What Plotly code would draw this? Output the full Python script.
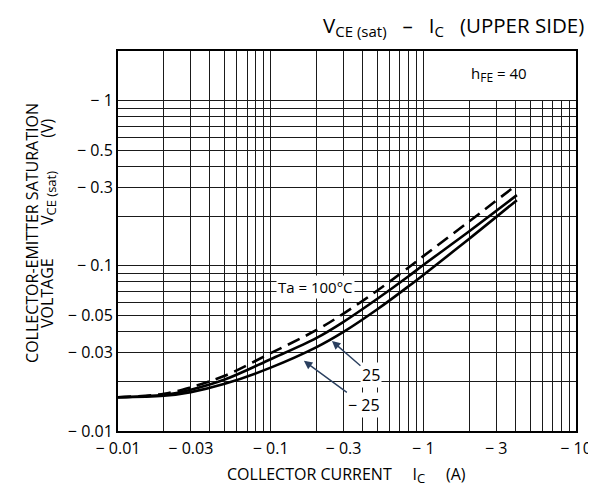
import numpy as np
import plotly.graph_objects as go

# ---- data ----
ic = [0.01, 0.02, 0.03, 0.05, 0.1, 0.2, 0.3, 0.5, 0.8, 1.0, 2.0, 4.1]
v_100 = [0.0160, 0.0168, 0.0184, 0.0216, 0.0296, 0.0409, 0.0514, 0.0709, 0.0977, 0.1145, 0.186, 0.310]
v_25 = [0.0160, 0.01656, 0.0178, 0.0205, 0.0272, 0.0366, 0.0458, 0.0632, 0.0865, 0.1012, 0.162, 0.268]
v_m25 = [0.0160, 0.01634, 0.0172, 0.0193, 0.0242, 0.0322, 0.0398, 0.0546, 0.0752, 0.0881, 0.146, 0.250]

x_tickvals = [0.01, 0.03, 0.1, 0.3, 1, 3, 10]
x_ticktext = ["− 0.01", "− 0.03", "− 0.1", "− 0.3", "− 1", "− 3", "− 10"]
y_tickvals = [0.01, 0.03, 0.05, 0.1, 0.3, 0.5, 1]
y_ticktext = ["− 0.01", "− 0.03", "− 0.05", "− 0.1", "− 0.3", "− 0.5", "− 1"]

x_minor = [m * d for d in (0.01, 0.1, 1) for m in range(1, 10)] + [10]
y_minor = [m * d for d in (0.01, 0.1) for m in range(1, 10)] + [1]

FONT = "Open Sans"

fig = go.Figure()
fig.add_trace(go.Scatter(x=ic, y=v_100, mode="lines",
                         line=dict(color="black", width=2.6, dash="13px,7px", shape="spline", smoothing=1)))
fig.add_trace(go.Scatter(x=ic, y=v_25, mode="lines",
                         line=dict(color="black", width=2.6, shape="spline", smoothing=1)))
fig.add_trace(go.Scatter(x=ic, y=v_m25, mode="lines",
                         line=dict(color="black", width=2.6, shape="spline", smoothing=1)))

grid_col = "#1a1a1a"
tick_font = dict(family=FONT, size=16, color="black")
fig.update_xaxes(
    type="log", range=[np.log10(0.01), np.log10(10)],
    tickvals=x_tickvals, ticktext=x_ticktext, ticks="", showgrid=False,
    minor=dict(tickvals=x_minor, showgrid=True, gridcolor=grid_col, gridwidth=1.1, ticks=""),
    showline=True, linecolor="black", linewidth=2, mirror=True,
    tickfont=tick_font, zeroline=False, ticklabelstandoff=2,
)
fig.update_yaxes(
    type="log", range=[np.log10(0.01), np.log10(2.0)],
    tickvals=y_tickvals, ticktext=y_ticktext, ticks="", showgrid=False,
    minor=dict(tickvals=y_minor, showgrid=True, gridcolor=grid_col, gridwidth=1.1, ticks=""),
    showline=True, linecolor="black", linewidth=2, mirror=True,
    tickfont=tick_font, zeroline=False,
)

# blank region for the hFE label (no vertical grid above 1 V right of 1 A)
fig.add_shape(type="rect", xref="x", yref="y", x0=1.03, x1=10, y0=1.01, y1=2.0,
              fillcolor="white", line=dict(width=0), layer="between")

ax_font = dict(family=FONT, size=16, color="black")
sub = "<sub><span style='font-size:%dpx'>%s</span></sub>"
fig.add_annotation(xref="paper", yref="paper", x=0.733, y=1.066, xanchor="center", yanchor="middle",
                   text="V" + sub % (15, "CE (sat)") + "   –   I" + sub % (15, "C") + "   (UPPER SIDE)",
                   showarrow=False, font=dict(family=FONT, size=20.5, color="black"))
fig.add_annotation(xref="paper", yref="paper", x=0.832, y=0.937, xanchor="center", yanchor="middle",
                   text="h" + sub % (12, "FE") + " = 40", showarrow=False,
                   font=dict(family=FONT, size=15, color="black"))
fig.add_annotation(xref="paper", yref="paper", x=-0.188, y=0.521, xanchor="center", yanchor="middle",
                   textangle=-90, text="COLLECTOR-EMITTER SATURATION", showarrow=False, font=ax_font)
fig.add_annotation(xref="paper", yref="paper", x=-0.153, y=0.547, xanchor="center", yanchor="middle",
                   textangle=-90, text="VOLTAGE        V" + sub % (13, "CE (sat)") + "        (V)",
                   showarrow=False, font=ax_font)
fig.add_annotation(xref="paper", yref="paper", x=0.498, y=-0.116, xanchor="center", yanchor="middle",
                   text="COLLECTOR CURRENT     I" + sub % (13, "C") + "     (A)", showarrow=False, font=ax_font)
fig.add_annotation(xref="x", yref="y", x=np.log10(0.198), y=np.log10(0.0746),
                   text="Ta = 100°C", showarrow=False, font=dict(family=FONT, size=15, color="black"),
                   bgcolor="white")
fig.add_annotation(xref="x", yref="y", x=np.log10(0.252), y=np.log10(0.0351),
                   text="25", showarrow=True, ax=39, ay=34, arrowhead=2, arrowsize=1.2, arrowwidth=1.4,
                   font=dict(family=FONT, size=16, color="black"), bgcolor="white")
fig.add_annotation(xref="x", yref="y", x=np.log10(0.165), y=np.log10(0.0266),
                   text="− 25", showarrow=True, ax=60, ay=44, arrowhead=2, arrowsize=1.2, arrowwidth=1.4,
                   font=dict(family=FONT, size=16, color="black"), bgcolor="white")

fig.update_layout(
    width=596, height=489, showlegend=False,
    margin=dict(l=110, r=28, t=43, b=66),
    plot_bgcolor="white", paper_bgcolor="white",
)
fig.write_html("out.html")
